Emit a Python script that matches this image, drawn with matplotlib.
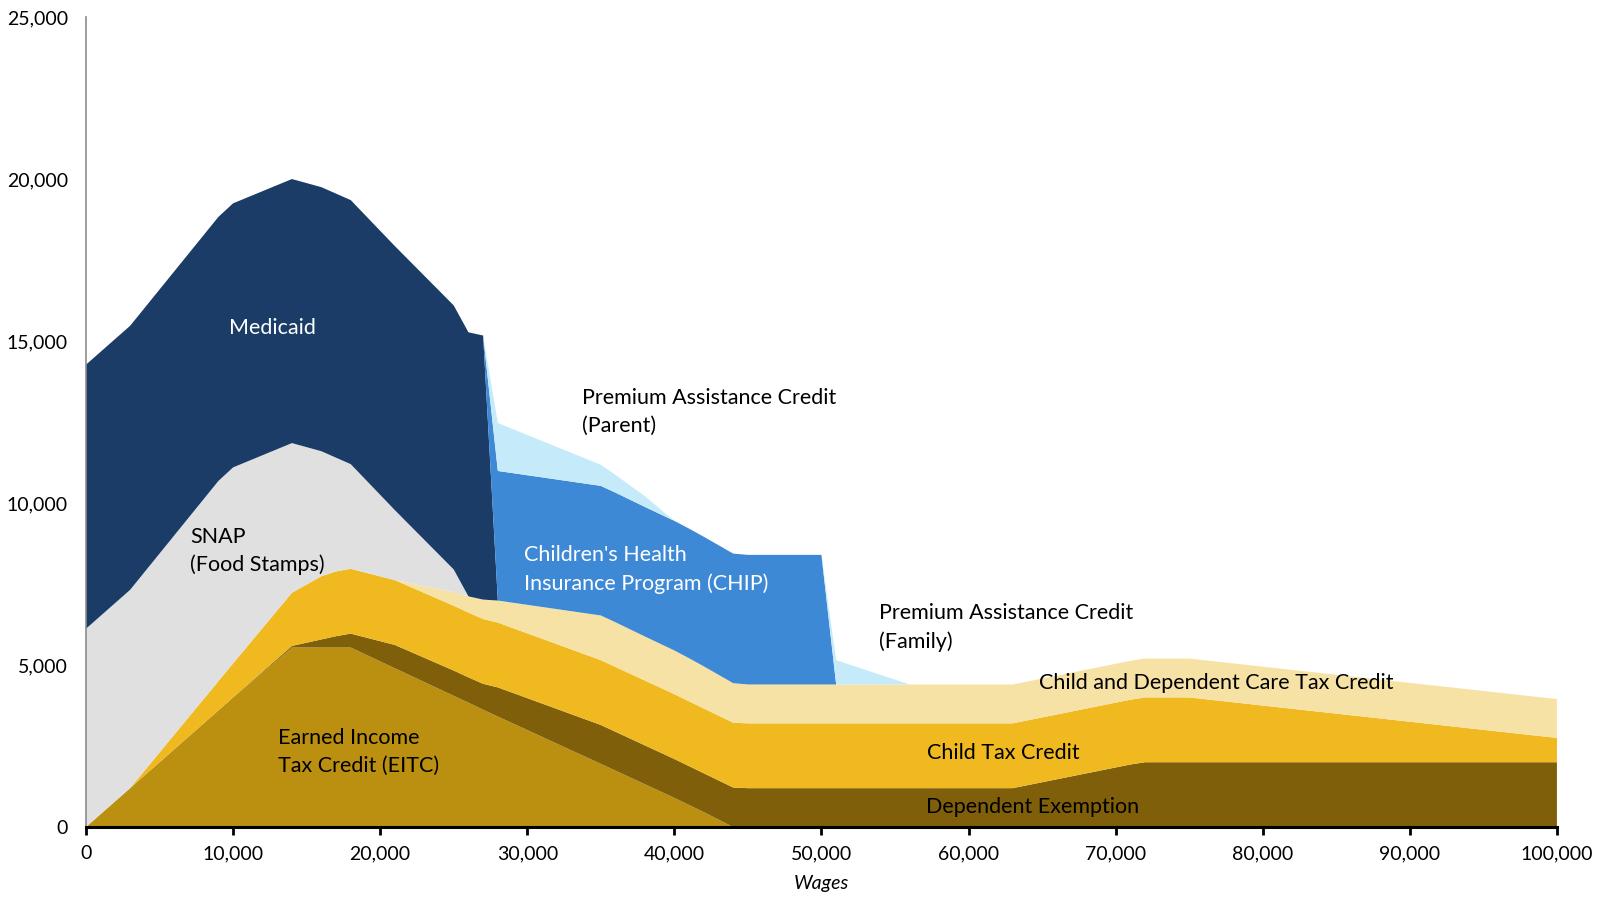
import matplotlib
matplotlib.use('Agg')
import matplotlib.pyplot as plt
from matplotlib.ticker import FuncFormatter, MultipleLocator

plt.rcParams['font.family'] = ['Lato', 'DejaVu Sans']

# wages grid (breakpoints)
wages = [0, 3000, 9000, 10000, 14000, 16000, 17000, 18000, 21000, 25000, 26000, 27000,
         28000, 35000, 36000, 38000, 40000, 41000, 42000, 44000, 45000, 50000, 51000,
         56000, 63000, 71000, 72000, 75000, 100000]

eitc = [0, 1200, 3600, 4000, 5540, 5540, 5540, 5540, 4900, 4050, 3840, 3620,
        3410, 1950, 1740, 1320, 900, 680, 460, 0, 0, 0, 0,
        0, 0, 0, 0, 0, 0]
dep_exemption = [0, 0, 0, 0, 50, 250, 350, 430, 720, 780, 780, 800,
                 900, 1200, 1200, 1200, 1200, 1200, 1200, 1220, 1200, 1200, 1200,
                 1200, 1200, 1930, 2000, 2000, 2000]
child_tax_credit = [0, 0, 900, 1050, 1640, 1950, 2000, 2000, 2000, 2000, 2000, 2000,
                    2000, 2000, 2000, 2000, 2000, 2000, 2000, 2000, 2000, 2000, 2000,
                    2000, 2000, 2000, 2000, 2000, 750]
dep_care_credit = [0, 0, 0, 0, 0, 0, 0, 0, 0, 420, 500, 600,
                   680, 1380, 1380, 1360, 1350, 1330, 1300, 1220, 1200, 1200, 1200,
                   1200, 1200, 1200, 1200, 1200, 1200]
snap = [6120, 6120, 6180, 6050, 4620, 3860, 3510, 3230, 2160, 700, 0, 0,
        0, 0, 0, 0, 0, 0, 0, 0, 0, 0, 0,
        0, 0, 0, 0, 0, 0]
medicaid = [8150, 8150, 8150, 8150, 8150, 8150, 8150, 8150, 8150, 8150, 8150, 8150,
            0, 0, 0, 0, 0, 0, 0, 0, 0, 0, 0,
            0, 0, 0, 0, 0, 0]
chip = [0, 0, 0, 0, 0, 0, 0, 0, 0, 0, 0, 0,
        4000, 4000, 4000, 4000, 4000, 4000, 4000, 4000, 4000, 4000, 0,
        0, 0, 0, 0, 0, 0]
premium_credit = [0, 0, 0, 0, 0, 0, 0, 0, 0, 0, 0, 0,
                  1480, 650, 550, 330, 0, 0, 0, 0, 0, 0, 750,
                  0, 0, 0, 0, 0, 0]

colors = ['#BB8F10', '#7F5F0A', '#F0B91F', '#F7E2A6', '#E0E0E0',
          '#1A3C66', '#3E89D6', '#C5EBFB']

fig = plt.figure(figsize=(15.98, 8.97), dpi=100)
ax = fig.add_axes([0.0538, 0.078, 0.9205, 0.903])

ax.stackplot(wages, eitc, dep_exemption, child_tax_credit, dep_care_credit,
             snap, medicaid, chip, premium_credit, colors=colors, linewidth=0)

ax.set_xlim(0, 100000)
ax.set_ylim(0, 25000)
ax.xaxis.set_major_locator(MultipleLocator(10000))
ax.yaxis.set_major_locator(MultipleLocator(5000))
fmt = FuncFormatter(lambda v, p: '{:,.0f}'.format(v))
ax.xaxis.set_major_formatter(fmt)
ax.yaxis.set_major_formatter(fmt)

for s in ['top', 'right']:
    ax.spines[s].set_visible(False)
ax.spines['left'].set_color('#8c8c8c')
ax.spines['left'].set_linewidth(1.2)
ax.spines['bottom'].set_color('black')
ax.spines['bottom'].set_linewidth(2.2)
ax.tick_params(axis='y', length=0, pad=13, labelsize=14)
ax.tick_params(axis='x', length=6, width=2, direction='out', pad=7, labelsize=14)

ax.set_xlabel('Wages', fontstyle='italic', fontsize=14, labelpad=9)

lab = dict(fontsize=15.5, va='center', ha='left', linespacing=1.5)
ax.text(12700, 15400, 'Medicaid', color='white', **{**lab, 'ha': 'center'})
ax.text(7070, 8520, 'SNAP\n(Food Stamps)', color='black', **lab)
ax.text(13060, 2310, 'Earned Income\nTax Credit (EITC)', color='black', **lab)
ax.text(33700, 12800, 'Premium Assistance Credit\n(Parent)', color='black', **lab)
ax.text(29800, 7960, "Children's Health\nInsurance Program (CHIP)", color='white', **lab)
ax.text(53900, 6170, 'Premium Assistance Credit\n(Family)', color='black', **lab)
ax.text(64800, 4440, 'Child and Dependent Care Tax Credit', color='black', **lab)
ax.text(57200, 2280, 'Child Tax Credit', color='black', **lab)
ax.text(57100, 620, 'Dependent Exemption', color='black', **lab)

fig.savefig('out.png', dpi=100)
